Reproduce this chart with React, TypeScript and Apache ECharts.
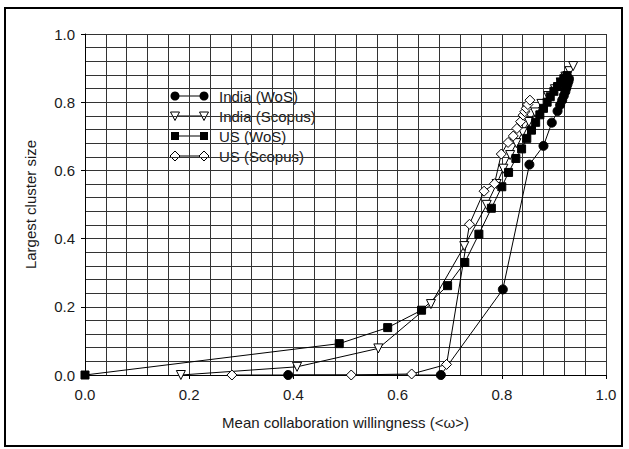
import React, { useEffect, useRef } from "react";
import * as echarts from "echarts";

const indiaWosX = [0.39, 0.683, 0.802, 0.853, 0.88, 0.896, 0.907, 0.912, 0.916, 0.919, 0.922, 0.924, 0.926, 0.928, 0.929];
const indiaWosY = [0, 0, 0.251, 0.617, 0.672, 0.74, 0.774, 0.792, 0.806, 0.819, 0.831, 0.842, 0.852, 0.861, 0.869];

const indiaScopusX = [0.184, 0.407, 0.563, 0.664, 0.728, 0.771, 0.79, 0.803, 0.816, 0.828, 0.84, 0.852, 0.864, 0.876, 0.889, 0.902, 0.913, 0.922, 0.93, 0.937];
const indiaScopusY = [0, 0.024, 0.078, 0.208, 0.378, 0.499, 0.56, 0.605, 0.645, 0.68, 0.712, 0.742, 0.77, 0.795, 0.818, 0.838, 0.858, 0.875, 0.891, 0.906];

const usWosX = [0, 0.488, 0.581, 0.646, 0.696, 0.729, 0.756, 0.78, 0.8, 0.813, 0.827, 0.838, 0.848, 0.857, 0.865, 0.873, 0.88, 0.887, 0.893, 0.9, 0.907, 0.913, 0.919, 0.925];
const usWosY = [0, 0.092, 0.139, 0.19, 0.262, 0.33, 0.413, 0.489, 0.552, 0.594, 0.635, 0.663, 0.694, 0.718, 0.741, 0.763, 0.782, 0.8, 0.816, 0.832, 0.846, 0.858, 0.869, 0.878];

const usScopusX = [0.282, 0.511, 0.627, 0.694, 0.738, 0.766, 0.786, 0.799, 0.812, 0.822, 0.829, 0.836, 0.841, 0.844, 0.847, 0.85, 0.854];
const usScopusY = [0, 0, 0.003, 0.031, 0.442, 0.539, 0.561, 0.648, 0.682, 0.701, 0.723, 0.743, 0.762, 0.772, 0.782, 0.793, 0.806];

const seriesNames = ["India (WoS)", "India (Scopus)", "US (WoS)", "US (Scopus)"];
const xTickLabels = ["0.0", "0.2", "0.4", "0.6", "0.8", "1.0"];
const yTickLabels = ["0.0", "0.2", "0.4", "0.6", "0.8", "1.0"];

const FONT = "Arial, 'Liberation Sans', sans-serif";
const FS = 15;
const TXT = "#1a1a1a";

function zip(xs: number[], ys: number[]) {
  return xs.map((x, i) => [x, ys[i]]);
}

function legendMarker(kind: string, x: number, y: number): any {
  if (kind === "circle") {
    return { type: "circle", shape: { cx: x, cy: y, r: 4.5 }, style: { fill: "#000" } };
  }
  if (kind === "tri") {
    return {
      type: "polygon",
      shape: { points: [[x - 4.5, y - 4], [x + 4.5, y - 4], [x, y + 4.5]] },
      style: { fill: "#fff", stroke: "#000", lineWidth: 1 },
    };
  }
  if (kind === "square") {
    return { type: "rect", shape: { x: x - 4, y: y - 4, width: 8, height: 8 }, style: { fill: "#000" } };
  }
  return {
    type: "polygon",
    shape: { points: [[x, y - 5], [x + 5, y], [x, y + 5], [x - 5, y]] },
    style: { fill: "#fff", stroke: "#000", lineWidth: 1 },
  };
}

export default function App() {
  const ref = useRef<HTMLDivElement>(null);
  useEffect(() => {
    if (!ref.current) return;
    const chart = echarts.init(ref.current, null, { renderer: "svg" });
    const kinds = ["circle", "tri", "square", "diamond"];
    const legendEls: any[] = [];
    seriesNames.forEach((name, i) => {
      const y = 96 + 20 * i;
      legendEls.push({
        type: "line",
        shape: { x1: 175, y1: y, x2: 204, y2: y },
        style: { stroke: "#000", lineWidth: 1 },
      });
      legendEls.push(legendMarker(kinds[i], 175, y));
      legendEls.push(legendMarker(kinds[i], 204, y));
      legendEls.push({
        type: "text",
        x: 219,
        y: y,
        style: { text: name, fontSize: FS, fontFamily: FONT, fill: TXT, verticalAlign: "middle", align: "left" },
      });
    });

    const gridLine = { show: true, lineStyle: { color: "#333", width: 1 } };
    const lineStyle = { color: "#000", width: 1 };

    chart.setOption({
      animation: false,
      backgroundColor: "#fff",
      grid: { left: 85, right: 23, top: 34, bottom: 74, containLabel: false },
      xAxis: {
        type: "value",
        min: 0,
        max: 1,
        interval: 0.2,
        name: "Mean collaboration willingness (<ω>)",
        nameLocation: "middle",
        nameGap: 40,
        nameTextStyle: { fontSize: FS, fontFamily: FONT, color: TXT },
        axisLine: { show: true, lineStyle: { color: "#000", width: 1 } },
        axisTick: { show: true, length: 4, lineStyle: { color: "#000" } },
        axisLabel: {
          margin: 12,
          fontSize: FS,
          fontFamily: FONT,
          color: TXT,
          formatter: (v: number) => xTickLabels[Math.round(v / 0.2)] ?? "",
        },
        splitLine: gridLine,
        minorTick: { show: false, splitNumber: 5 },
        minorSplitLine: gridLine,
      },
      yAxis: {
        type: "value",
        min: 0,
        max: 1,
        interval: 0.2,
        name: "Largest cluster size",
        nameLocation: "middle",
        nameGap: 47,
        nameTextStyle: { fontSize: FS, fontFamily: FONT, color: TXT },
        axisLine: { show: true, lineStyle: { color: "#000", width: 1 } },
        axisTick: { show: true, length: 4, lineStyle: { color: "#000" } },
        axisLabel: {
          margin: 10,
          fontSize: FS,
          fontFamily: FONT,
          color: TXT,
          formatter: (v: number) => yTickLabels[Math.round(v / 0.2)] ?? "",
        },
        splitLine: gridLine,
        minorTick: { show: false, splitNumber: 5 },
        minorSplitLine: gridLine,
      },
      series: [
        {
          name: seriesNames[0],
          type: "line",
          data: zip(indiaWosX, indiaWosY),
          symbol: "circle",
          symbolSize: 9,
          itemStyle: { color: "#000", borderColor: "#000" },
          lineStyle,
        },
        {
          name: seriesNames[1],
          type: "line",
          data: zip(indiaScopusX, indiaScopusY),
          symbol: "triangle",
          symbolRotate: 180,
          symbolSize: 9,
          itemStyle: { color: "#fff", borderColor: "#000", borderWidth: 1 },
          lineStyle,
        },
        {
          name: seriesNames[2],
          type: "line",
          data: zip(usWosX, usWosY),
          symbol: "rect",
          symbolSize: 8,
          itemStyle: { color: "#000", borderColor: "#000" },
          lineStyle,
        },
        {
          name: seriesNames[3],
          type: "line",
          data: zip(usScopusX, usScopusY),
          symbol: "diamond",
          symbolSize: 10,
          itemStyle: { color: "#fff", borderColor: "#000", borderWidth: 1 },
          lineStyle,
        },
      ],
      graphic: [
        {
          type: "rect",
          shape: { x: 5, y: 8, width: 617, height: 438 },
          style: { fill: "none", stroke: "#000", lineWidth: 2 },
          silent: true,
        },
        ...legendEls,
      ],
    });
    return () => chart.dispose();
  }, []);
  return (
    <div
      ref={ref}
      style={{ position: "fixed", left: 0, top: 0, width: 629, height: 449 }}
    />
  );
}
